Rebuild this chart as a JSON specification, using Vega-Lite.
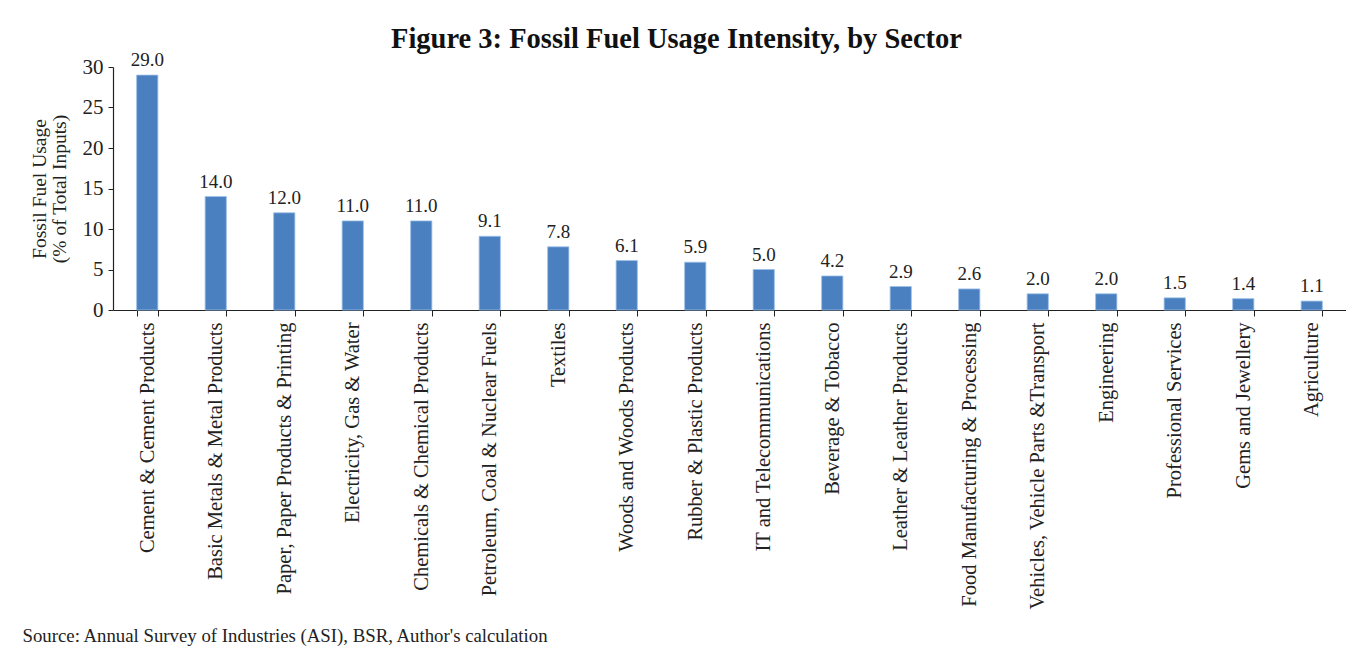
{
  "$schema": "https://vega.github.io/schema/vega-lite/v6.json",
  "autosize": {"type": "none"},
  "width": 1233,
  "height": 243,
  "padding": {"left": 113, "top": 67, "right": 0, "bottom": 346},
  "background": "white",
  "title": {
    "text": "Figure 3: Fossil Fuel Usage Intensity, by Sector",
    "font": "Liberation Serif",
    "fontSize": 28.5,
    "fontWeight": "bold",
    "color": "#111111",
    "anchor": "middle",
    "dx": -53,
    "offset": -2
  },
  "data": {
    "values": [
      {"sector": "Cement & Cement Products", "value": 29.0},
      {"sector": "Basic Metals & Metal Products", "value": 14.0},
      {"sector": "Paper, Paper Products & Printing", "value": 12.0},
      {"sector": "Electricity, Gas & Water", "value": 11.0},
      {"sector": "Chemicals & Chemical Products", "value": 11.0},
      {"sector": "Petroleum, Coal & Nuclear Fuels", "value": 9.1},
      {"sector": "Textiles", "value": 7.8},
      {"sector": "Woods and Woods Products", "value": 6.1},
      {"sector": "Rubber & Plastic Products", "value": 5.9},
      {"sector": "IT and Telecommunications", "value": 5.0},
      {"sector": "Beverage & Tobacco", "value": 4.2},
      {"sector": "Leather & Leather Products", "value": 2.9},
      {"sector": "Food Manufacturing & Processing", "value": 2.6},
      {"sector": "Vehicles, Vehicle Parts &Transport", "value": 2.0},
      {"sector": "Engineering", "value": 2.0},
      {"sector": "Professional Services", "value": 1.5},
      {"sector": "Gems and Jewellery", "value": 1.4},
      {"sector": "Agriculture", "value": 1.1}
    ]
  },
  "encoding": {
    "x": {
      "field": "sector",
      "type": "nominal",
      "sort": null,
      "scale": {"paddingInner": 0.69, "paddingOuter": 0.345},
      "axis": {
        "title": "Source: Annual Survey of Industries (ASI), BSR, Author's calculation",
        "titleFont": "Liberation Serif",
        "titleFontSize": 18.8,
        "titleFontWeight": "normal",
        "titleColor": "#222222",
        "titleAnchor": "start",
        "titleAlign": "left",
        "titleBaseline": "middle",
        "titleX": -91,
        "titleY": 325,
        "labelAngle": -90,
        "labelFont": "Liberation Serif",
        "labelFontSize": 20.5,
        "labelColor": "#222222",
        "labelPadding": 6,
        "labelLimit": 400,
        "tickBand": "extent",
        "tickSize": 6,
        "tickColor": "#222222",
        "domainColor": "#222222",
        "domainWidth": 1.2
      }
    },
    "y": {
      "field": "value",
      "type": "quantitative",
      "scale": {"domain": [0, 30]},
      "axis": {
        "values": [0, 5, 10, 15, 20, 25, 30],
        "grid": false,
        "title": ["Fossil Fuel Usage", "(% of Total Inputs)"],
        "titleFont": "Liberation Serif",
        "titleFontSize": 19.5,
        "titleFontWeight": "normal",
        "titleColor": "#222222",
        "titlePadding": 13,
        "titleLineHeight": 20,
        "labelFont": "Liberation Serif",
        "labelFontSize": 21,
        "labelColor": "#222222",
        "labelPadding": 5,
        "tickSize": 5,
        "tickColor": "#222222",
        "domainColor": "#222222",
        "domainWidth": 1.2
      }
    }
  },
  "layer": [
    {
      "mark": {"type": "bar", "color": "#4a7fc0", "stroke": "#9cc0e8", "strokeWidth": 0.8}
    },
    {
      "mark": {
        "type": "text",
        "baseline": "bottom",
        "dy": -5,
        "font": "Liberation Serif",
        "fontSize": 19,
        "color": "#222222"
      },
      "encoding": {
        "text": {"field": "value", "type": "quantitative", "format": ".1f"}
      }
    }
  ],
  "config": {"view": {"stroke": null}}
}
